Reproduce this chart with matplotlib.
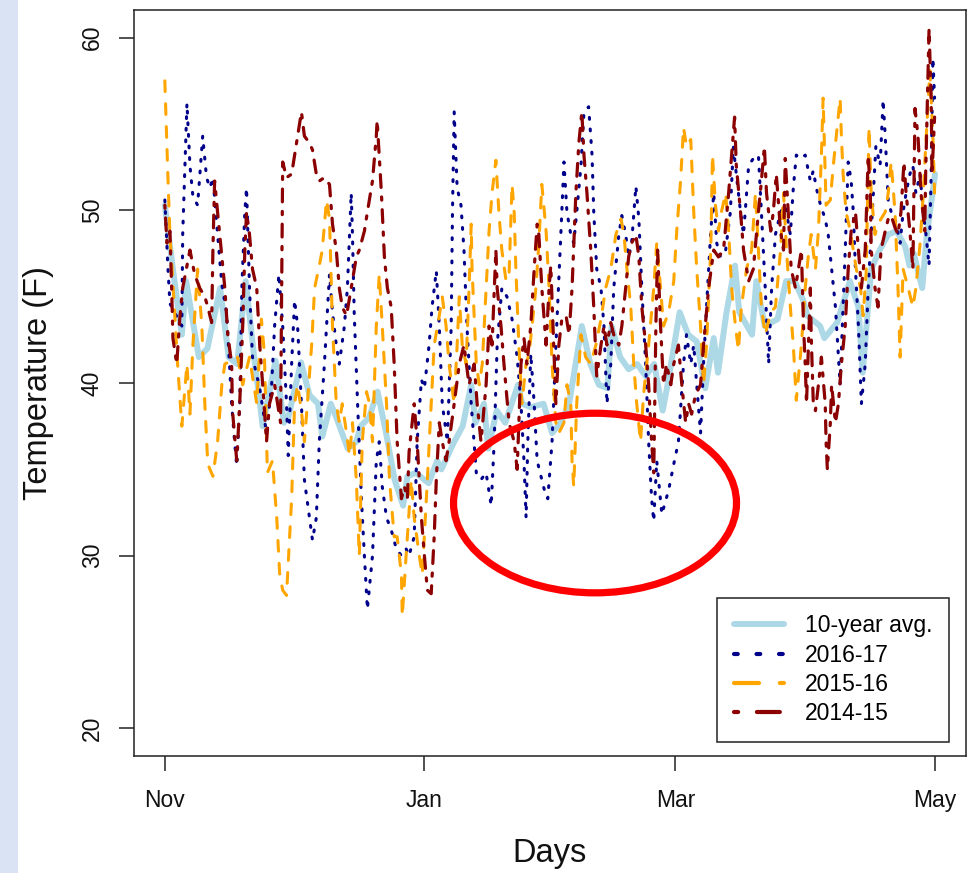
import matplotlib
matplotlib.use('Agg')
import matplotlib.pyplot as plt
from matplotlib.patches import Ellipse, Rectangle
from matplotlib.lines import Line2D

plt.rcParams['font.family'] = ['Liberation Sans', 'DejaVu Sans']

# ---------------- data (days since Nov 1, temperature F) ----------------
month_ticks = [0, 61, 120, 181]
month_labels = ['Nov', 'Jan', 'Mar', 'May']
y_ticks = [20, 30, 40, 50, 60]

avg_days = [0, 2, 4, 5, 8, 10, 13, 15, 17, 19, 21, 23, 26, 28, 29, 32, 34, 36, 37, 39,
            40, 43, 45, 46, 48, 50, 52, 54, 56, 57, 59, 62, 64, 65, 68, 70, 72, 73, 75, 76,
            78, 80, 83, 84, 86, 89, 91, 93, 95, 98, 100, 102, 104, 105, 107, 109, 111, 113, 115, 117,
            118, 121, 123, 125, 127, 129, 130, 132, 134, 135, 138, 139, 141, 144, 146, 148, 150, 151, 154, 155,
            158, 161, 163, 164, 166, 168, 170, 172, 174, 175, 176, 178, 179, 181]
avg_vals = [50.3, 46.4, 42.8, 45.9, 41.5, 42.0, 45.5, 41.5, 41.1, 45.9, 41.5, 37.5, 41.3, 37.7, 38.0, 41.2, 39.3, 38.8, 36.9, 38.8,
            38.2, 36.2, 36.6, 37.5, 38.0, 39.5, 37.1, 34.4, 32.9, 34.6, 34.8, 34.2, 35.5, 35.0, 36.6, 37.5, 39.9, 37.7, 38.8, 36.2,
            38.4, 37.7, 39.9, 38.8, 38.6, 38.8, 37.1, 37.7, 38.8, 43.3, 41.1, 39.9, 39.7, 43.3, 41.5, 40.8, 41.1, 40.4, 41.1, 38.4,
            39.7, 44.1, 42.8, 42.4, 39.7, 42.6, 40.6, 44.1, 46.8, 44.1, 42.8, 45.9, 43.3, 43.7, 45.9, 45.9, 44.8, 43.9, 43.3, 42.6,
            43.5, 45.9, 44.4, 40.6, 46.6, 47.7, 48.6, 48.8, 47.9, 46.8, 47.5, 45.5, 48.4, 52.1]

y1617_days = [0.0, 0.7, 1.2, 4.0, 4.2, 5.2, 5.9, 6.6, 7.7, 8.9, 9.8, 10.6, 11.3, 12.4, 13.4, 14.5, 15.2, 15.7, 16.4, 16.9,
              17.6, 18.1, 18.8, 19.2, 19.9, 20.6, 22.3, 23.9, 25.1, 25.8, 26.8, 27.7, 28.6, 29.0, 29.8, 30.5, 31.2, 32.1, 32.8, 33.5,
              34.7, 35.6, 36.3, 37.5, 38.7, 39.4, 40.3, 41.0, 42.2, 42.9, 43.8, 44.1, 44.5, 45.3, 46.2, 46.9, 47.6, 48.8, 49.7, 50.4,
              51.1, 52.1, 53.2, 54.4, 55.6, 56.7, 57.4, 58.6, 59.3, 60.3, 61.0, 62.1, 62.8, 63.8, 64.5, 65.2, 66.4, 67.3, 67.6, 68.0,
              68.7, 69.6, 70.3, 71.0, 72.0, 73.2, 74.3, 75.5, 76.7, 77.4, 78.1, 79.2, 80.4, 81.6, 82.8, 83.7, 84.4, 84.9, 85.3, 86.0,
              86.8, 87.5, 88.6, 89.5, 90.0, 91.0, 92.1, 93.1, 93.8, 94.5, 95.4, 96.1, 96.8, 97.8, 98.5, 99.6, 100.4, 100.8, 101.5, 102.5,
              103.2, 103.9, 104.8, 105.5, 106.7, 107.4, 108.3, 109.0, 109.7, 110.7, 111.4, 112.1, 113.0, 113.7, 114.4, 114.9, 115.6, 116.8, 118.4, 119.6,
              120.7, 121.9, 122.6, 123.6, 124.3, 125.0, 125.9, 126.6, 127.3, 128.3, 129.0, 129.7, 130.6, 131.8, 132.9, 133.6, 134.3, 135.3, 136.0, 137.2,
              138.3, 139.5, 140.2, 141.1, 141.9, 142.6, 143.5, 144.7, 145.8, 147.0, 147.7, 148.4, 149.6, 150.5, 151.7, 152.4, 153.1, 154.1, 155.2, 155.9,
              156.7, 157.6, 158.7, 159.9, 160.6, 161.3, 161.8, 162.3, 163.0, 163.7, 164.6, 165.3, 166.5, 167.1, 168.1, 168.8, 169.3, 170.0, 170.7, 171.6,
              172.8, 173.5, 174.2, 175.1, 175.8, 176.5, 177.5, 178.2, 178.8, 179.6, 180.1, 180.5, 180.9]
y1617_vals = [50.6, 46.8, 44.6, 43.3, 48.6, 56.2, 52.6, 50.8, 50.3, 54.3, 51.9, 51.3, 51.9, 48.6, 45.7, 44.1, 41.1, 38.8, 36.6, 35.2,
              38.8, 45.5, 49.9, 51.3, 45.5, 41.5, 39.7, 37.1, 39.9, 43.3, 46.3, 43.3, 38.8, 35.8, 41.1, 44.8, 43.3, 38.8, 34.4, 33.1,
              30.9, 32.2, 36.6, 41.1, 46.3, 44.1, 42.2, 41.1, 43.3, 45.5, 51.0, 48.6, 44.1, 38.8, 33.3, 30.0, 26.9, 30.0, 35.5, 36.6,
              34.0, 32.2, 31.5, 30.4, 30.0, 30.4, 30.0, 31.1, 36.6, 40.2, 39.7, 42.2, 44.4, 46.5, 43.3, 38.8, 36.6, 43.3, 49.9, 55.7,
              51.3, 50.3, 47.7, 43.3, 38.8, 34.8, 34.4, 34.8, 32.9, 36.6, 42.2, 45.5, 45.0, 43.7, 41.5, 38.8, 35.5, 32.2, 36.6, 41.7,
              38.8, 35.5, 34.4, 33.5, 33.3, 36.6, 43.3, 48.8, 52.8, 49.9, 48.6, 48.1, 49.9, 52.6, 55.7, 56.0, 53.2, 49.9, 46.6, 45.5,
              43.3, 38.8, 41.1, 45.5, 48.6, 49.7, 48.6, 47.3, 48.1, 51.4, 49.5, 45.5, 41.1, 36.6, 33.3, 32.0, 35.5, 32.4, 33.8, 35.3,
              36.6, 41.1, 42.8, 41.1, 42.2, 39.9, 37.1, 41.1, 44.4, 48.8, 51.0, 48.1, 47.3, 47.7, 49.9, 53.7, 52.1, 49.9, 48.6, 52.6,
              53.0, 53.2, 49.9, 45.5, 41.1, 45.5, 48.6, 49.9, 50.3, 48.6, 51.3, 53.2, 53.0, 53.2, 51.7, 52.3, 51.3, 50.3, 49.5, 48.6,
              46.6, 44.4, 39.9, 47.7, 52.8, 51.7, 49.9, 46.6, 43.3, 38.8, 41.1, 45.5, 51.0, 53.7, 52.6, 56.4, 54.3, 50.6, 49.9, 49.5,
              48.1, 49.9, 51.0, 52.1, 52.6, 51.0, 52.1, 49.9, 48.8, 46.8, 52.1, 58.8, 56.5]

y1516_days = [0.0, 0.7, 1.2, 2.3, 3.0, 4.0, 5.2, 5.9, 6.6, 7.7, 8.7, 9.4, 10.1, 11.3, 12.4, 13.4, 14.1, 17.1, 18.3, 19.9,
              21.6, 22.7, 23.4, 24.1, 25.3, 26.3, 27.0, 27.7, 28.6, 29.8, 30.5, 31.2, 32.1, 32.8, 33.5, 34.5, 35.2, 36.3, 37.0, 38.0,
              38.7, 39.4, 40.3, 41.0, 41.7, 42.7, 43.4, 44.1, 45.0, 45.7, 46.4, 47.4, 48.1, 48.8, 49.7, 50.4, 51.1, 52.1, 52.8, 53.9,
              54.6, 55.6, 55.8, 56.7, 57.9, 58.6, 59.8, 60.5, 61.7, 62.6, 63.3, 64.5, 65.2, 66.1, 66.8, 68.0, 68.7, 69.2, 69.9, 70.8,
              71.5, 72.0, 72.2, 73.2, 73.9, 74.6, 75.5, 76.2, 76.9, 77.8, 78.5, 79.2, 80.2, 80.9, 81.6, 82.1, 82.5, 83.2, 83.9, 84.9,
              85.6, 86.3, 87.2, 87.9, 88.6, 89.6, 90.3, 91.0, 91.9, 92.6, 93.8, 94.5, 95.4, 95.7, 96.1, 96.8, 97.8, 98.9, 100.1, 101.3,
              102.5, 103.6, 104.8, 106.0, 107.2, 107.9, 108.6, 109.5, 110.2, 110.9, 111.8, 112.5, 113.7, 114.9, 115.6, 116.5, 117.2, 118.4, 119.6, 120.3,
              121.2, 121.9, 122.6, 123.6, 124.3, 125.0, 125.9, 126.6, 127.3, 128.3, 128.7, 129.4, 130.1, 130.8, 131.8, 132.5, 133.2, 134.1, 134.8, 135.5,
              136.7, 137.9, 138.8, 139.5, 140.2, 141.1, 142.4, 143.5, 144.7, 145.4, 146.1, 147.0, 147.7, 148.4, 149.6, 150.5, 151.2, 151.9, 152.9, 153.6,
              154.3, 154.7, 155.4, 156.4, 157.1, 157.8, 158.7, 159.0, 159.4, 160.1, 161.1, 161.8, 162.5, 163.5, 164.1, 164.8, 165.5, 166.0, 166.9, 167.6,
              168.3, 169.3, 170.0, 170.7, 171.6, 172.3, 172.8, 173.5, 174.7, 175.8, 176.5, 177.5, 178.2, 178.8, 179.8, 180.5, 180.9]
y1516_vals = [57.5, 52.1, 48.6, 44.1, 41.1, 37.5, 41.1, 38.2, 42.2, 46.6, 43.3, 38.8, 35.3, 34.6, 36.6, 39.9, 41.1, 41.5, 39.9, 41.5,
              38.8, 43.7, 41.7, 34.8, 35.5, 32.2, 28.9, 28.0, 27.7, 33.3, 38.8, 39.9, 38.4, 36.6, 38.8, 42.2, 45.5, 46.8, 47.7, 50.6,
              49.5, 43.3, 38.8, 37.7, 38.8, 37.1, 35.8, 37.7, 34.4, 30.0, 36.6, 39.5, 38.8, 36.6, 43.3, 46.3, 43.3, 38.8, 34.4, 31.1,
              31.1, 28.9, 26.5, 30.0, 34.4, 32.2, 30.0, 28.9, 34.4, 38.8, 42.2, 43.9, 45.0, 43.3, 41.1, 38.8, 42.2, 45.0, 42.2, 41.1,
              45.5, 49.2, 46.6, 41.1, 39.9, 41.1, 45.5, 48.8, 51.0, 52.9, 49.9, 47.7, 45.9, 46.3, 51.5, 49.9, 46.6, 42.2, 38.8, 41.1,
              41.7, 43.3, 45.5, 48.1, 51.5, 48.8, 45.5, 41.1, 37.7, 37.1, 37.7, 39.9, 38.8, 35.5, 34.0, 38.8, 42.8, 41.5, 41.1, 42.2,
              43.7, 45.5, 46.6, 48.6, 49.5, 48.6, 46.6, 44.4, 41.1, 38.8, 36.6, 39.3, 42.2, 45.5, 48.1, 45.5, 43.3, 44.1, 45.9, 48.8,
              51.7, 54.8, 53.7, 54.1, 49.9, 46.6, 43.3, 39.9, 42.2, 47.7, 53.2, 50.3, 48.8, 49.9, 51.0, 48.8, 45.5, 43.3, 41.9, 44.4,
              46.6, 47.7, 51.0, 47.7, 44.4, 42.8, 44.1, 44.4, 47.7, 51.0, 47.7, 44.4, 42.2, 39.0, 42.2, 45.5, 47.3, 48.6, 46.6, 48.8,
              53.2, 56.5, 50.3, 50.6, 52.6, 54.3, 56.5, 54.3, 52.1, 49.9, 48.8, 47.7, 46.6, 45.5, 43.9, 46.3, 54.8, 51.0, 48.6, 49.2,
              49.5, 49.9, 51.0, 52.8, 49.9, 45.5, 41.5, 46.6, 45.5, 44.4, 45.5, 48.1, 50.8, 53.7, 58.1, 54.3, 51.0]

y1415_days = [0.0, 0.5, 1.2, 1.6, 1.9, 2.8, 3.5, 4.2, 5.9, 7.0, 8.2, 9.4, 10.1, 11.0, 11.3, 11.7, 12.4, 13.4, 14.1, 14.8,
              15.7, 15.9, 16.9, 17.6, 18.3, 18.8, 19.2, 19.9, 20.6, 21.6, 22.3, 23.0, 23.9, 24.6, 25.8, 26.5, 27.2, 27.7, 28.6, 29.8,
              30.5, 31.2, 32.1, 32.8, 34.0, 34.7, 35.6, 36.3, 37.5, 38.7, 39.4, 40.3, 41.0, 41.7, 42.7, 43.8, 45.0, 45.7, 46.9, 47.6,
              48.8, 49.7, 49.9, 50.9, 51.6, 52.3, 53.2, 53.9, 54.6, 55.6, 56.3, 57.0, 57.4, 58.6, 59.3, 60.3, 61.0, 61.7, 62.6, 63.3,
              63.8, 64.5, 65.2, 66.1, 66.8, 68.0, 69.2, 70.3, 71.5, 72.7, 73.4, 74.3, 75.5, 76.2, 76.9, 77.8, 78.1, 79.0, 79.7, 80.9,
              82.1, 82.8, 83.7, 84.4, 85.1, 86.0, 86.8, 87.5, 87.9, 88.6, 89.6, 90.3, 90.7, 91.4, 91.9, 92.6, 93.3, 94.3, 95.0, 95.7,
              96.6, 97.3, 98.0, 98.5, 99.2, 100.1, 100.8, 101.5, 102.5, 103.2, 103.9, 104.8, 105.5, 106.7, 107.4, 108.3, 109.0, 109.7, 110.7, 111.4,
              112.1, 113.0, 113.7, 114.4, 114.9, 115.4, 115.8, 116.5, 117.2, 117.9, 118.9, 119.6, 120.7, 121.5, 122.4, 123.1, 123.8, 124.7, 125.9, 126.6,
              127.8, 129.0, 130.1, 131.3, 132.5, 133.2, 133.9, 134.3, 135.3, 136.0, 137.2, 138.3, 139.5, 140.2, 140.9, 141.4, 142.4, 143.0, 143.7, 144.7,
              145.4, 145.8, 146.5, 147.2, 148.2, 148.9, 149.6, 150.1, 150.5, 150.8, 151.7, 151.9, 152.4, 152.9, 153.6, 154.3, 155.2, 155.4, 155.7, 156.4,
              156.7, 157.6, 158.3, 159.0, 159.9, 160.6, 161.3, 162.3, 163.0, 163.7, 164.6, 165.3, 165.8, 166.0, 166.9, 167.6, 168.3, 169.3, 170.0, 170.7,
              171.6, 172.3, 173.0, 173.7, 174.2, 175.1, 175.8, 176.3, 177.0, 177.7, 178.6, 178.8, 179.6, 180.1, 180.3, 180.9]
y1415_vals = [50.3, 48.1, 48.8, 45.5, 42.6, 41.1, 43.7, 45.5, 47.7, 46.3, 45.5, 45.0, 44.4, 43.5, 47.7, 51.7, 49.9, 47.3, 45.5, 42.8,
              41.1, 38.4, 35.5, 38.8, 43.3, 47.7, 49.9, 48.6, 46.6, 45.5, 42.2, 39.9, 36.6, 38.8, 39.9, 38.8, 37.7, 52.8, 51.9, 52.1,
              53.2, 54.3, 55.7, 54.3, 53.9, 53.5, 52.1, 51.7, 51.9, 51.5, 49.2, 47.7, 45.5, 44.4, 43.9, 45.5, 47.3, 47.7, 48.8, 49.9,
              51.7, 54.3, 55.2, 51.0, 47.3, 45.5, 44.4, 41.1, 36.6, 33.3, 34.0, 33.3, 36.0, 38.8, 36.6, 32.2, 30.0, 28.0, 27.8, 31.1,
              34.4, 37.7, 36.6, 35.5, 36.6, 38.8, 41.1, 42.2, 39.9, 41.1, 38.8, 36.6, 39.9, 43.3, 42.2, 47.7, 45.5, 43.3, 41.1, 37.7,
              36.6, 35.0, 41.1, 42.6, 41.1, 43.3, 46.6, 49.2, 48.6, 45.5, 42.2, 45.5, 46.8, 42.2, 38.8, 42.2, 43.7, 43.9, 42.8, 45.5,
              51.0, 53.9, 55.7, 53.2, 51.0, 47.7, 44.4, 40.4, 42.2, 43.3, 42.2, 43.5, 42.8, 42.2, 43.3, 45.5, 47.3, 48.1, 48.6, 47.3,
              44.4, 42.2, 39.9, 36.6, 34.8, 43.3, 47.7, 43.3, 39.9, 41.1, 39.9, 41.1, 42.2, 39.9, 37.7, 38.8, 38.2, 39.3, 39.9, 42.2,
              45.5, 47.7, 47.3, 47.7, 51.0, 53.2, 55.4, 52.6, 49.9, 47.7, 45.9, 46.6, 49.9, 51.7, 53.7, 51.0, 48.8, 49.9, 52.1, 48.8,
              47.7, 53.0, 49.9, 46.6, 45.5, 46.6, 47.7, 43.3, 41.1, 38.8, 45.5, 42.8, 38.8, 38.4, 39.9, 41.5, 38.8, 36.6, 35.0, 37.7,
              39.9, 37.7, 38.8, 41.1, 43.3, 46.6, 48.8, 49.9, 47.7, 45.5, 47.7, 53.2, 51.0, 47.7, 45.5, 44.4, 47.7, 48.8, 49.5, 49.7,
              49.0, 48.6, 49.9, 52.8, 51.0, 48.8, 46.6, 55.9, 54.3, 51.0, 48.8, 52.1, 60.5, 56.5, 52.1, 55.4]

series_labels = ['10-year avg.', '2016-17', '2015-16', '2014-15']
series_colors = ['#ADD8E6', '#00008B', '#FFA500', '#8B0000']

# annotation ellipse (data units)
ell_center = (101.1, 33.05)
ell_size = (66.5, 10.4)

# ---------------- figure ----------------
fig = plt.figure(figsize=(9.74, 8.73), dpi=100)
fig.patches.append(Rectangle((0, 0), 18 / 974, 1, transform=fig.transFigure,
                             facecolor='#DAE3F3', edgecolor='none', zorder=0))
ax = fig.add_axes([0.1376, 0.134, 0.854, 0.8545])

ax.plot(avg_days, avg_vals, color=series_colors[0], lw=4.3,
        solid_capstyle='round', solid_joinstyle='round', zorder=2)
ax.plot(y1617_days, y1617_vals, color=series_colors[1], lw=2.2,
        linestyle=(0, (0.6, 3.2)), dash_capstyle='round', zorder=3)
ax.plot(y1516_days, y1516_vals, color=series_colors[2], lw=2.2,
        linestyle=(0, (3.5, 4)), dash_capstyle='round', zorder=4)
ax.plot(y1415_days, y1415_vals, color=series_colors[3], lw=2.3,
        linestyle=(0, (1, 3, 4, 3)), dash_capstyle='round', zorder=5)

ax.add_patch(Ellipse(ell_center, ell_size[0], ell_size[1], fill=False,
                     edgecolor='#FF0000', lw=5.2, zorder=10))

ax.set_xlim(-7.24, 188.24)
ax.set_ylim(18.4, 61.6)
ax.set_xticks(month_ticks)
ax.set_xticklabels(month_labels)
ax.set_yticks(y_ticks)
ax.set_yticklabels([str(v) for v in y_ticks], rotation=90, va='center')

for s in ax.spines.values():
    s.set_linewidth(1.1)
    s.set_color('#222222')
ax.tick_params(axis='both', length=10.8, width=1.1, color='#222222',
               labelsize=16.5, labelcolor='#111111')
ax.tick_params(axis='x', pad=13)
ax.tick_params(axis='y', pad=11)

ax.set_xlabel('Days', fontsize=23.5, labelpad=19, color='#111111')
ax.set_ylabel('Temperature (F)', fontsize=23.5, labelpad=19, color='#111111')

handles = [
    Line2D([], [], color=series_colors[0], lw=4.3, solid_capstyle='round'),
    Line2D([], [], color=series_colors[1], lw=3.0, linestyle=(0, (0.9, 4.5)), dash_capstyle='round'),
    Line2D([], [], color=series_colors[2], lw=3.0, linestyle=(0, (6, 5)), dash_capstyle='round'),
    Line2D([], [], color=series_colors[3], lw=3.0, linestyle=(0, (1, 4.5, 5.5, 4.5)), dash_capstyle='round'),
]
leg = ax.legend(handles, series_labels, loc='lower right', bbox_to_anchor=(0.9796, 0.0188),
                borderaxespad=0, fontsize=16.5, handlelength=2.2, handletextpad=0.9,
                labelspacing=0.28, borderpad=0.72, fancybox=False, framealpha=1)
leg.get_frame().set_edgecolor('#222222')
leg.get_frame().set_linewidth(1.1)

fig.savefig('out.png', dpi=100)
